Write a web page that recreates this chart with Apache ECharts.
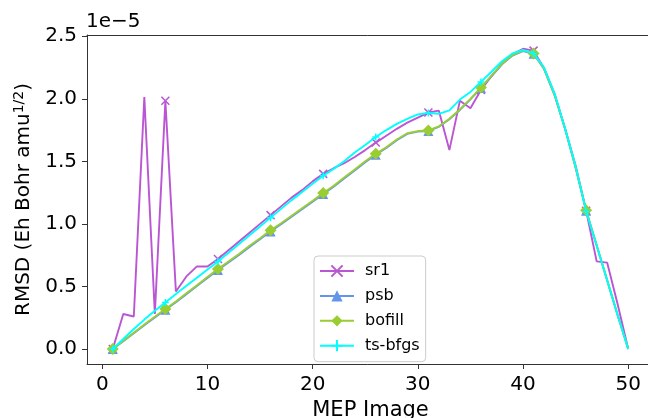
<!DOCTYPE html>
<html>
<head>
<meta charset="utf-8">
<script src="https://cdn.jsdelivr.net/npm/echarts@6/dist/echarts.min.js"></script>
<style>html,body{margin:0;padding:0;background:#fff;}#c{width:648px;height:418px;}</style>
</head>
<body>
<div id="c"></div>
<script>
// MEP image indices
const images = [1,2,3,4,5,6,7,8,9,10,11,12,13,14,15,16,17,18,19,20,21,22,23,24,25,26,27,28,29,30,31,32,33,34,35,36,37,38,39,40,41,42,43,44,45,46,47,48,49,50];
// RMSD values in units of 1e-5
const sr1 = [0,0.28,0.26,2.015,0.28,1.985,0.46,0.58,0.66,0.66,0.72,0.79,0.86,0.93,1.0,1.07,1.14,1.21,1.27,1.34,1.40,1.445,1.485,1.535,1.59,1.65,1.705,1.76,1.81,1.85,1.89,1.905,1.59,1.985,1.925,2.07,2.18,2.28,2.355,2.40,2.385,2.245,2.04,1.76,1.465,1.105,0.70,0.69,0.355,0];
const psb = [0,0.062,0.126,0.19,0.252,0.313,0.374,0.438,0.503,0.567,0.632,0.692,0.752,0.816,0.878,0.94,0.997,1.057,1.117,1.177,1.238,1.297,1.362,1.427,1.492,1.553,1.607,1.669,1.72,1.738,1.743,1.776,1.836,1.911,1.996,2.086,2.181,2.276,2.346,2.382,2.36,2.238,2.028,1.758,1.448,1.105,0.828,0.548,0.268,0];
const bofill = [0,0.065,0.13,0.195,0.258,0.319,0.38,0.445,0.51,0.575,0.64,0.70,0.76,0.825,0.886,0.949,1.005,1.065,1.125,1.185,1.246,1.305,1.37,1.435,1.50,1.56,1.613,1.675,1.725,1.742,1.747,1.78,1.84,1.915,2.0,2.09,2.185,2.28,2.35,2.385,2.363,2.24,2.03,1.76,1.45,1.109,0.83,0.55,0.27,0];
const tsbfgs = [0,0.08,0.16,0.235,0.305,0.372,0.44,0.505,0.57,0.635,0.70,0.77,0.84,0.91,0.98,1.05,1.12,1.19,1.255,1.32,1.385,1.44,1.50,1.57,1.63,1.694,1.75,1.80,1.84,1.875,1.887,1.88,1.908,1.994,2.055,2.135,2.216,2.30,2.363,2.39,2.363,2.25,2.04,1.76,1.46,1.10,0.828,0.55,0.27,0];
const seriesNames = ['sr1','psb','bofill','ts-bfgs'];
const xTicks = [0,10,20,30,40,50];
const yTicks = [0,0.5,1.0,1.5,2.0,2.5];
const exponentLabel = '1e\u22125';

const FONT = 'DejaVu Sans';
const MARK_EVERY = 5;

function build(vals) {
  return vals.map((v, i) => {
    const d = {value: [images[i], v]};
    if (i % MARK_EVERY !== 0) d.symbol = 'none';
    return d;
  });
}

const cfg = [
  {name: seriesNames[0], vals: sr1, color: '#BA55D3', symbol: 'path://M0,0L10,10M10,0L0,10', size: 8, stroke: true},
  {name: seriesNames[1], vals: psb, color: '#6495ED', symbol: 'triangle', size: 10, stroke: false},
  {name: seriesNames[2], vals: bofill, color: '#9ACD32', symbol: 'diamond', size: 12, stroke: false},
  {name: seriesNames[3], vals: tsbfgs, color: '#00FFFF', symbol: 'path://M5,0L5,10M0,5L10,5', size: 7, stroke: true}
];

const series = cfg.map((c, k) => ({
  name: c.name,
  type: 'line',
  xAxisIndex: 0,
  data: build(c.vals),
  symbol: c.symbol,
  symbolSize: c.size,
  showSymbol: true,
  showAllSymbol: true,
  animation: false,
  z: 2 + k,
  lineStyle: {color: c.color, width: 1.9},
  itemStyle: c.stroke ? {color: c.color, borderColor: c.color, borderWidth: 1.5} : {color: c.color, borderWidth: 0}
}));

const chart = echarts.init(document.getElementById('c'), null, {renderer: 'canvas'});
chart.setOption({
  backgroundColor: '#fff',
  animation: false,
  textStyle: {fontFamily: FONT},
  grid: {left: 87, top: 35, width: 567, height: 329, show: false, containLabel: false, outerBoundsMode: 'none'},
  xAxis: [{
    type: 'value', min: -1.45, max: 52.45,
    name: 'MEP Image', nameLocation: 'middle', nameGap: 35,
    nameTextStyle: {fontFamily: FONT, fontSize: 21, color: '#000'},
    axisLine: {show: true, onZero: false, lineStyle: {color: '#333', width: 1}},
    axisTick: {show: true, inside: false, length: 5, customValues: xTicks, lineStyle: {color: '#333'}},
    axisLabel: {customValues: xTicks, margin: 11, fontFamily: FONT, fontSize: 20, color: '#000'},
    splitLine: {show: false}
  }, {
    type: 'value', position: 'top', min: -1.45, max: 52.45,
    axisLine: {show: true, onZero: false, lineStyle: {color: '#333', width: 1}},
    axisTick: {show: false}, axisLabel: {show: false}, splitLine: {show: false}
  }],
  yAxis: {
    type: 'value', min: -0.12, max: 2.51,
    name: 'RMSD (Eh Bohr amu{sup|1/2})', nameLocation: 'middle', nameGap: 50,
    nameTextStyle: {fontFamily: FONT, fontSize: 20, color: '#000',
      rich: {sup: {fontFamily: FONT, fontSize: 14, color: '#000', padding: [0, 0, 10, 0]}}},
    axisLine: {show: true, onZero: false, lineStyle: {color: '#333', width: 1}},
    axisTick: {show: true, inside: false, length: 5, customValues: yTicks, lineStyle: {color: '#333'}},
    axisLabel: {customValues: yTicks, margin: 10, fontFamily: FONT, fontSize: 20, color: '#000',
      formatter: v => v.toFixed(1)},
    splitLine: {show: false}
  },
  legend: {
    orient: 'vertical', left: 314, top: 256,
    data: seriesNames,
    itemWidth: 34, itemHeight: 14, itemGap: 8.9,
    padding: [7, 6, 8, 5],
    backgroundColor: 'rgba(255,255,255,0.8)', borderColor: '#cccccc', borderWidth: 1, borderRadius: 4,
    textStyle: {fontFamily: FONT, fontSize: 16, lineHeight: 14, color: '#000', padding: [0, 0, 0, 6]}
  },
  graphic: [{
    type: 'text', left: 86, top: 12,
    style: {text: exponentLabel, fontFamily: FONT, fontSize: 20, fill: '#000'}
  }],
  series: series
});
</script>
</body>
</html>
